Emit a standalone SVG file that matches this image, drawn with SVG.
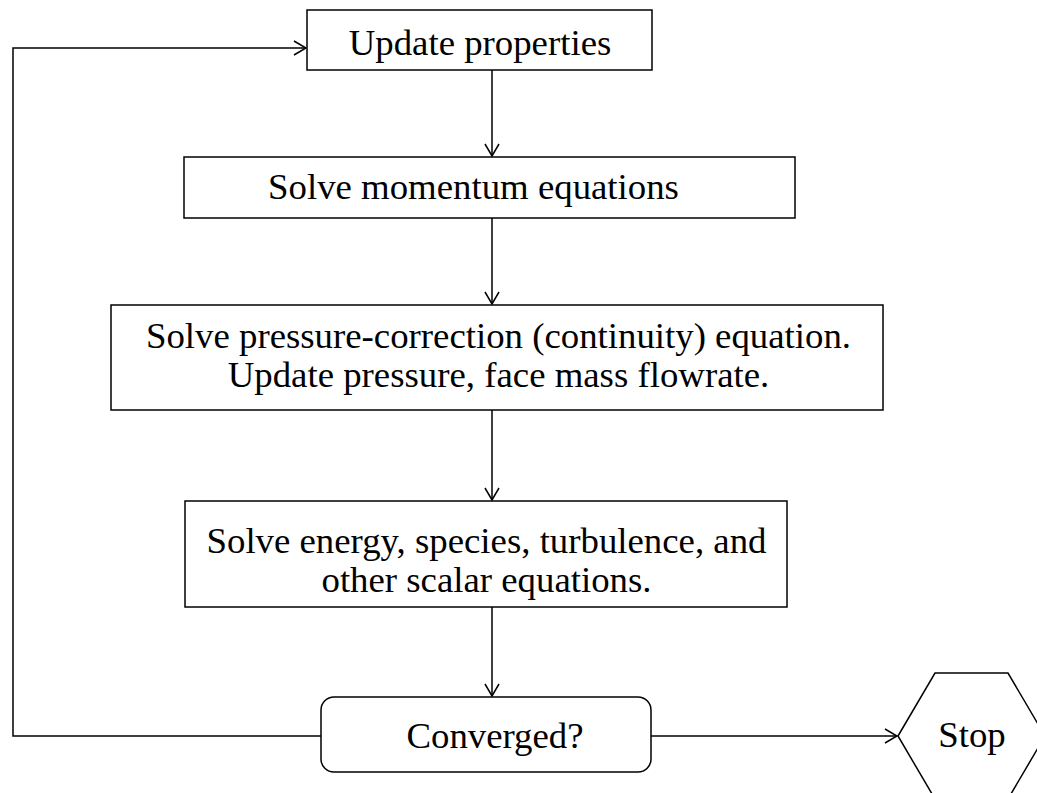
<svg xmlns="http://www.w3.org/2000/svg" width="1037" height="793" viewBox="0 0 1037 793">
<style>
.box{fill:#fff;stroke:#000;stroke-width:1.5}
.t{font-family:"Liberation Serif","Times New Roman",serif;font-size:36.8px;fill:#000;text-anchor:middle}
.c{fill:none;stroke:#000;stroke-width:1.5}
</style>
<defs>
<marker id="a" markerWidth="14" markerHeight="16" refX="13" refY="8" orient="auto" markerUnits="userSpaceOnUse">
<path d="M1,1 L13,8 L1,15" fill="none" stroke="#000" stroke-width="1.5"/>
</marker>
</defs>
<rect width="1037" height="793" fill="#fff"/>
<g id="connectors">
<line class="c" x1="492" y1="70" x2="492" y2="156" marker-end="url(#a)"/>
<line class="c" x1="492" y1="218" x2="492" y2="304" marker-end="url(#a)"/>
<line class="c" x1="492" y1="410" x2="492" y2="500" marker-end="url(#a)"/>
<line class="c" x1="492" y1="607" x2="492" y2="696" marker-end="url(#a)"/>
<polyline class="c" points="321,736 13,736 13,48 306,48" marker-end="url(#a)"/>
<line class="c" x1="651" y1="736" x2="897" y2="736" marker-end="url(#a)"/>
</g>
<g id="n1">
<rect class="box" x="307" y="10" width="345" height="60"/>
<text class="t" x="480" y="55">Update properties</text>
</g>
<g id="n2">
<rect class="box" x="184" y="157" width="611" height="61"/>
<text class="t" x="473.5" y="199">Solve momentum equations</text>
</g>
<g id="n3">
<rect class="box" x="111" y="305" width="772" height="105"/>
<text class="t" x="498.5" y="348">Solve pressure-correction (continuity) equation.</text>
<text class="t" x="498.5" y="387">Update pressure, face mass flowrate.</text>
</g>
<g id="n4">
<rect class="box" x="185" y="501" width="602" height="106"/>
<text class="t" x="486.5" y="553">Solve energy, species, turbulence, and</text>
<text class="t" x="486.5" y="592">other scalar equations.</text>
</g>
<g id="n5">
<rect class="box" x="321" y="697" width="330" height="75" rx="13"/>
<text class="t" x="495" y="748">Converged?</text>
</g>
<g id="n6">
<polygon class="box" points="898,736 935,673 1008,673 1045,736 1008,799 935,799"/>
<text class="t" x="972" y="747">Stop</text>
</g>
</svg>
